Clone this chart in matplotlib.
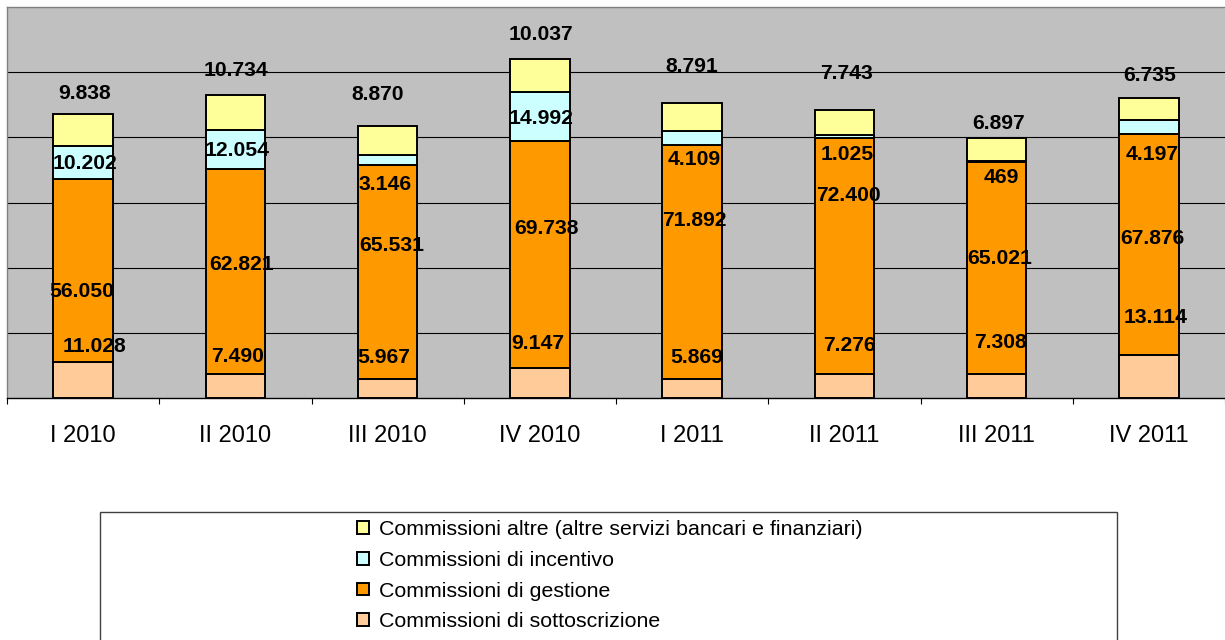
import matplotlib
matplotlib.use('Agg')
import matplotlib.pyplot as plt
import numpy as np
from matplotlib.patches import Rectangle

plt.rcParams['font.family'] = ['Liberation Sans', 'DejaVu Sans']

# ---------------- data ----------------
categories = ['I 2010', 'II 2010', 'III 2010', 'IV 2010',
              'I 2011', 'II 2011', 'III 2011', 'IV 2011']
sottoscrizione = [11028, 7490, 5967, 9147, 5869, 7276, 7308, 13114]
gestione = [56050, 62821, 65531, 69738, 71892, 72400, 65021, 67876]
incentivo = [10202, 12054, 3146, 14992, 4109, 1025, 469, 4197]
altre = [9838, 10734, 8870, 10037, 8791, 7743, 6897, 6735]
series_names = ['Commissioni di sottoscrizione', 'Commissioni di gestione',
                'Commissioni di incentivo',
                'Commissioni altre (altre servizi bancari e finanziari)']

# ---------------- layout / style ----------------
colors = ['#FFCC99', '#FF9900', '#CCFFFF', '#FFFF99']
# data-label placement as drawn in the original (y in data units, dx in category units)
label_y = [
    [16300, 13500, 12900, 17200, 12900, 16600, 17800, 25200],   # sottoscrizione
    [33200, 41500, 47400, 52600, 55100, 62800, 43400, 49500],   # gestione
    [72600, 76600, 66200, 86500, 73800, 75400, 68300, 75400],   # incentivo
    [94200, 101200, 93900, 112300, 102200, 100300, 84900, 99700],  # altre
]
label_dx = [
    [0.076, 0.017, -0.024, -0.012, 0.03, 0.03, 0.022, 0.047],
    [-0.007, 0.04, 0.027, 0.04, 0.017, 0.028, 0.022, 0.024],
    [0.013, 0.01, -0.019, 0.007, 0.012, 0.017, 0.032, 0.02],
    [0.01, 0.007, -0.063, 0.005, 0.0, 0.015, 0.014, 0.007],
]

W, H = 1225, 640
fig = plt.figure(figsize=(W / 100, H / 100), dpi=100)
ax = fig.add_axes([7 / W, 1 - 398 / H, 1 - 7 / W, (398 - 7) / H])
ax.set_facecolor('#C0C0C0')

series = [sottoscrizione, gestione, incentivo, altre]
x = np.arange(len(categories))
bottom = np.zeros(len(categories))
bars = []
for vals, col, name in zip(series, colors, series_names):
    b = ax.bar(x, vals, width=0.39, bottom=bottom, color=col,
               edgecolor='black', linewidth=1.4, label=name, zorder=3)
    bars.append(b)
    bottom = bottom + np.array(vals)

def fmt(v):
    return f"{v:,}".replace(',', '.')

for vals, ys, dxs in zip(series, label_y, label_dx):
    for i, (v, yy, dx) in enumerate(zip(vals, ys, dxs)):
        ax.annotate(fmt(v), xy=(x[i] + dx, yy), xytext=(0, -5.4),
                    textcoords='offset points', ha='center', va='baseline',
                    fontsize=15.2, fontweight='bold', color='black', zorder=5)

ax.set_xlim(-0.5, len(categories) - 0.5)
ax.set_ylim(0, 120000)
ax.set_yticks(np.arange(20000, 100001, 20000))
ax.set_yticklabels([])
ax.tick_params(axis='y', length=0)
ax.yaxis.grid(True, color='black', linewidth=0.8)
ax.set_axisbelow(True)

ax.set_xticks(x)
ax.set_xticklabels(categories, fontsize=17)
ax.set_xticks(np.arange(-0.5, len(categories), 1.0), minor=True)
ax.tick_params(axis='x', which='major', length=0, pad=19.5)
ax.tick_params(axis='x', which='minor', length=4.5, width=0.8, color='black')

for s in ['left', 'top']:
    ax.spines[s].set_color('#808080')
    ax.spines[s].set_linewidth(1.0)
ax.spines['right'].set_visible(False)
ax.spines['bottom'].set_color('black')
ax.spines['bottom'].set_linewidth(1.0)

# legend frame
fig.patches.append(Rectangle((100 / W, -0.01), 1017 / W, (640 - 512) / H + 0.01,
                             transform=fig.transFigure, facecolor='white',
                             edgecolor='#404040', linewidth=1.0, zorder=0))

handles = bars[::-1]
labels = series_names[::-1]
leg = fig.legend(handles, labels, loc='upper left',
                 bbox_to_anchor=(357 / W, 1 - 520 / H), frameon=False,
                 fontsize=15.4, handlelength=0.55, handleheight=0.55,
                 handletextpad=0.5, labelspacing=0.55, borderpad=0,
                 borderaxespad=0)

fig.savefig('out.png', dpi=100)
